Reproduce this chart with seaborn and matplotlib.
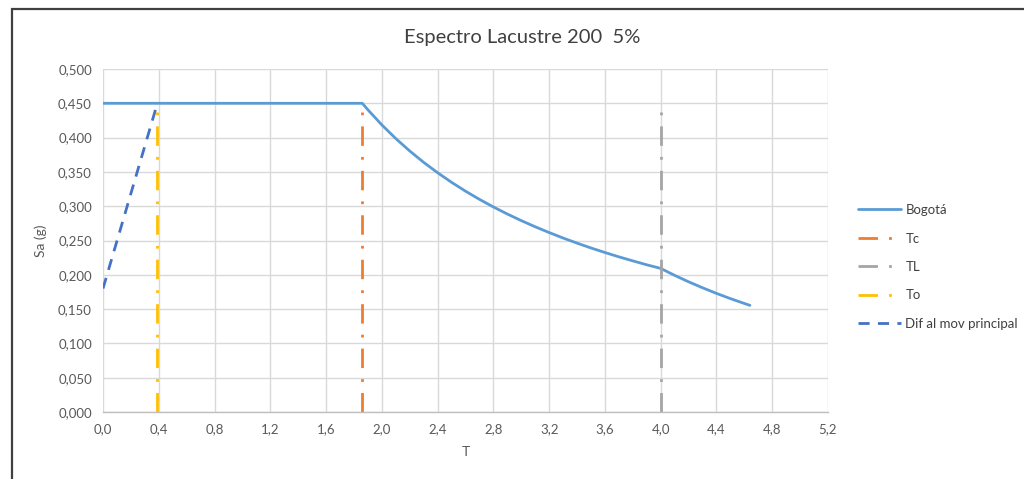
import matplotlib
matplotlib.use("Agg")
import matplotlib.pyplot as plt
import seaborn as sns
import pandas as pd
from matplotlib.patches import Rectangle
from matplotlib.ticker import FuncFormatter

# ---- data ----
bogota_T = [0.0, 1.86, 1.9, 2.0, 2.1, 2.2, 2.3, 2.4, 2.5, 2.6, 2.7, 2.8, 2.9, 3.0,
            3.1, 3.2, 3.3, 3.4, 3.5, 3.6, 3.7, 3.8, 3.9, 4.0, 4.1, 4.2, 4.3, 4.4,
            4.5, 4.6, 4.64]
bogota_Sa = [0.450, 0.450, 0.4405, 0.4185, 0.3986, 0.3805, 0.3639, 0.3488, 0.3348,
             0.3219, 0.3100, 0.2989, 0.2886, 0.2790, 0.2700, 0.2616, 0.2536, 0.2462,
             0.2391, 0.2325, 0.2262, 0.2203, 0.2146, 0.2093, 0.1992, 0.1898, 0.1811,
             0.1729, 0.1653, 0.1582, 0.1555]
tc_T = [1.86, 1.86]
tc_Sa = [0.0, 0.45]
tl_T = [4.0, 4.0]
tl_Sa = [0.0, 0.45]
to_T = [0.39, 0.39]
to_Sa = [0.0, 0.45]
dif_T = [0.0, 0.39]
dif_Sa = [0.18, 0.45]
x_ticks = [0.0, 0.4, 0.8, 1.2, 1.6, 2.0, 2.4, 2.8, 3.2, 3.6, 4.0, 4.4, 4.8, 5.2]
y_ticks = [0.0, 0.05, 0.10, 0.15, 0.20, 0.25, 0.30, 0.35, 0.40, 0.45, 0.50]

sns.set_theme(style="white")
plt.rcParams['font.family'] = ['Lato', 'DejaVu Sans']

fig = plt.figure(figsize=(10.24, 4.79), dpi=100)
ax = fig.add_axes([103/1024, 1-412/479, (828-103)/1024, (412-69)/479])

series = [
    ("Bogotá", bogota_T, bogota_Sa, "#5B9BD5", (None, None)),
    ("Tc", tc_T, tc_Sa, "#ED7D31", (7, 4, 1, 4)),
    ("TL", tl_T, tl_Sa, "#A5A5A5", (7, 4, 1, 4)),
    ("To", to_T, to_Sa, "#FFC000", (7, 4, 1, 4)),
    ("Dif al mov principal", dif_T, dif_Sa, "#4472C4", (4, 3)),
]
for name, xs, ys, col, dash in series:
    df = pd.DataFrame({"T": xs, "Sa": ys})
    sns.lineplot(data=df, x="T", y="Sa", ax=ax, color=col, lw=2, label=name,
                 sort=False, estimator=None)
    line = ax.get_lines()[-1]
    if dash[0] is not None:
        line.set_dashes(dash)

ax.set_xlim(0, 5.2)
ax.set_ylim(0, 0.5)
ax.set_xticks(x_ticks)
ax.set_yticks(y_ticks)
ax.xaxis.set_major_formatter(FuncFormatter(lambda v, p: f"{v:.1f}".replace(".", ",")))
ax.yaxis.set_major_formatter(FuncFormatter(lambda v, p: f"{v:.3f}".replace(".", ",")))
ax.grid(True, color="#D9D9D9", lw=1)
ax.set_axisbelow(True)
for s in ["top", "right", "left"]:
    ax.spines[s].set_visible(False)
ax.spines["bottom"].set_color("#BFBFBF")
ax.spines["bottom"].set_linewidth(1)
ax.tick_params(axis="both", length=0, labelsize=9.5, labelcolor="#595959", pad=8)
ax.set_xlabel("T", fontsize=10, color="#595959", labelpad=8)
ax.set_ylabel("Sa (g)", fontsize=10, color="#595959", labelpad=8)

handles, labels = ax.get_legend_handles_labels()
ax.get_legend().remove()
fig.legend(handles, labels, loc="center left", bbox_to_anchor=(846/1024, 1-267/479),
           frameon=False, fontsize=9.5, labelcolor="#404040", handlelength=3.3,
           handletextpad=0.3, labelspacing=1.25)

fig.text(522/1024, 1-37/479, "Espectro Lacustre 200  5%", ha="center", va="center",
         fontsize=14.5, color="#404040")

fig.add_artist(Rectangle((12/1024, -0.05), 1.1, 1-9/479 + 0.05, transform=fig.transFigure,
                         fill=False, edgecolor="#404040", lw=1.6, clip_on=False))

fig.savefig("out.png", dpi=100)
